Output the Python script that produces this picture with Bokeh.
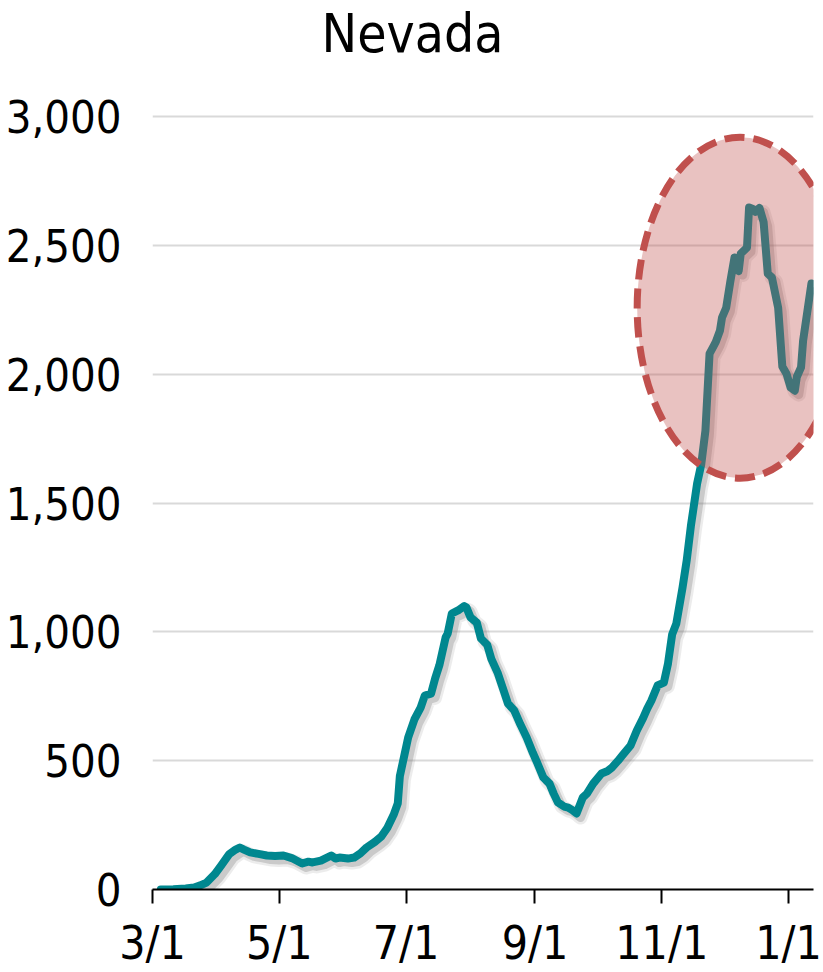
from datetime import datetime, timedelta
from bokeh.plotting import figure
from bokeh.models import FixedTicker, NumeralTickFormatter, Range1d
from bokeh.embed import file_html
from bokeh.resources import INLINE

# ---- data ----
dates = [
    "2020-03-05", "2020-03-11", "2020-03-17", "2020-03-21", "2020-03-24", "2020-03-27",
    "2020-03-31", "2020-04-03", "2020-04-07", "2020-04-10", "2020-04-12", "2020-04-14",
    "2020-04-17", "2020-04-21", "2020-04-25", "2020-04-29", "2020-05-03", "2020-05-07",
    "2020-05-12", "2020-05-15", "2020-05-17", "2020-05-21", "2020-05-26", "2020-05-28",
    "2020-05-30", "2020-06-03", "2020-06-06", "2020-06-09", "2020-06-12", "2020-06-16",
    "2020-06-19", "2020-06-22", "2020-06-25", "2020-06-27", "2020-06-28", "2020-06-30",
    "2020-07-02", "2020-07-05", "2020-07-08", "2020-07-10", "2020-07-13", "2020-07-15",
    "2020-07-17", "2020-07-20", "2020-07-21", "2020-07-23", "2020-07-26", "2020-07-29",
    "2020-07-30", "2020-08-01", "2020-08-04", "2020-08-06", "2020-08-09", "2020-08-11",
    "2020-08-14", "2020-08-17", "2020-08-19", "2020-08-22", "2020-08-25", "2020-08-28",
    "2020-08-31", "2020-09-02", "2020-09-05", "2020-09-08", "2020-09-10", "2020-09-12",
    "2020-09-15", "2020-09-17", "2020-09-19", "2020-09-21", "2020-09-24", "2020-09-26",
    "2020-09-29", "2020-10-03", "2020-10-06", "2020-10-08", "2020-10-11", "2020-10-13",
    "2020-10-17", "2020-10-20", "2020-10-23", "2020-10-25", "2020-10-27", "2020-10-30",
    "2020-11-02", "2020-11-04", "2020-11-06", "2020-11-08", "2020-11-11", "2020-11-13",
    "2020-11-15", "2020-11-18", "2020-11-20", "2020-11-22", "2020-11-24", "2020-11-26",
    "2020-11-27", "2020-11-29", "2020-11-30", "2020-12-02", "2020-12-04", "2020-12-06",
    "2020-12-08", "2020-12-09", "2020-12-12", "2020-12-13", "2020-12-15", "2020-12-16",
    "2020-12-18", "2020-12-20", "2020-12-22", "2020-12-24", "2020-12-27", "2020-12-29",
    "2020-12-31", "2021-01-02", "2021-01-04", "2021-01-05", "2021-01-07", "2021-01-08",
    "2021-01-12",
]
cases = [
    0, 1, 4, 8, 16, 27,
    60, 93, 138, 155, 163, 155,
    144, 138, 132, 130, 132, 122,
    101, 108, 105, 112, 132, 120,
    124, 120, 124, 140, 163, 185,
    205, 240, 290, 334, 440, 515,
    590, 660, 706, 753, 760, 820,
    870, 978, 993, 1071, 1083, 1100,
    1095, 1056, 1036, 974, 950, 895,
    842, 770, 722, 695, 640, 590,
    530, 493, 435, 411, 372, 338,
    322, 318, 308, 295, 357, 372,
    411, 450, 460, 473, 500, 520,
    559, 617, 665, 702, 733, 792,
    803, 877, 990, 1032, 1172, 1277,
    1410, 1575, 1650, 1780, 2080, 2110,
    2125, 2169, 2220, 2258, 2360, 2453,
    2400, 2468, 2491, 2647, 2640, 2630,
    2645, 2590, 2390, 2375, 2258, 2030,
    2002, 1948, 1936, 1990, 2026, 2130,
    2352,
]

title_text = "Nevada"
y_ticks = [0, 500, 1000, 1500, 2000, 2500, 3000]
x_tick_dates = ["2020-03-01", "2020-05-01", "2020-07-01", "2020-09-01", "2020-11-01", "2021-01-01"]
x_tick_labels = ["3/1", "5/1", "7/1", "9/1", "11/1", "1/1"]
x_start, x_end = "2020-03-01", "2021-01-13"

# highlighted region (ellipse): center date, center value, width in days, height in cases
hl_center_date = "2020-12-08 16:00"
hl_center_value = 2258
hl_width_days = 99
hl_height_value = 1323

# ---- layout (pixels) ----
W, H = 823, 972
FRAME_LEFT, FRAME_RIGHT = 152, 813
FRAME_TOP, FRAME_BOTTOM = 63, 889
PX_Y3000 = 116                      # where 3000 should land
k = (FRAME_BOTTOM - PX_Y3000) / 3000.0     # px per case
y_hi = 3000 + (PX_Y3000 - FRAME_TOP) / k

def d(s):
    fmt = "%Y-%m-%d %H:%M" if " " in s else "%Y-%m-%d"
    return datetime.strptime(s, fmt)

def ms(dt):
    return (dt - datetime(1970, 1, 1)).total_seconds() * 1000.0

xs = [d(s) for s in dates]
FONT = "'DejaVu Sans Condensed', sans-serif"

p = figure(width=W, height=H, x_axis_type="datetime",
           x_range=Range1d(d(x_start), d(x_end)), y_range=Range1d(0, y_hi),
           output_backend="svg", toolbar_location=None,
           min_border_left=FRAME_LEFT, min_border_right=W - FRAME_RIGHT,
           min_border_top=FRAME_TOP, min_border_bottom=H - FRAME_BOTTOM)

p.title.text = title_text
p.title.text_font = FONT
p.title.text_font_size = "53px"
p.title.text_font_style = "normal"
p.title.text_color = "black"
p.title.align = "left"
p.title.offset = 169
p.title.standoff = 0

p.outline_line_color = None
p.background_fill_color = "white"
p.border_fill_color = "white"

# drop shadow (offset a few pixels right/down)
px_per_day = (FRAME_RIGHT - FRAME_LEFT) / ((d(x_end) - d(x_start)).days)
dx = timedelta(days=4 / px_per_day)
dy = 4 / k
sx = [x + dx for x in xs]
sy = [v - dy for v in cases]
p.line(sx, sy, line_color="#7a7a7a", line_alpha=0.14, line_width=14, line_join="round")
p.line(sx, sy, line_color="#7a7a7a", line_alpha=0.30, line_width=9, line_join="round")

p.line(xs, cases, line_color="#00878F", line_width=8, line_join="round", line_cap="round")

p.ellipse(x=[d(hl_center_date)], y=[hl_center_value],
          width=hl_width_days * 86400000.0, height=hl_height_value,
          fill_color="#C0504D", fill_alpha=0.35,
          line_color="#C0504D", line_width=7, line_dash="20 9")

# axes
p.xaxis.ticker = FixedTicker(ticks=[ms(d(s)) for s in x_tick_dates])
p.xaxis.major_label_overrides = {ms(d(s)): lab for s, lab in zip(x_tick_dates, x_tick_labels)}
p.xaxis.axis_line_color = "black"
p.xaxis.axis_line_width = 2
p.xaxis.major_tick_line_color = "black"
p.xaxis.major_tick_line_width = 2
p.xaxis.major_tick_out = 14
p.xaxis.major_tick_in = 0
p.xaxis.minor_tick_line_color = None
p.xaxis.major_label_text_font = FONT
p.xaxis.major_label_text_font_size = "46px"
p.xaxis.major_label_text_color = "black"
p.xaxis.major_label_standoff = 12

p.yaxis.ticker = FixedTicker(ticks=y_ticks)
p.yaxis.formatter = NumeralTickFormatter(format="0,0")
p.yaxis.axis_line_color = None
p.yaxis.major_tick_line_color = None
p.yaxis.minor_tick_line_color = None
p.yaxis.major_tick_out = 0
p.yaxis.major_label_text_font = FONT
p.yaxis.major_label_text_font_size = "45px"
p.yaxis.major_label_text_color = "black"
p.yaxis.major_label_standoff = 31

p.xgrid.grid_line_color = None
p.ygrid.ticker = FixedTicker(ticks=y_ticks)
p.ygrid.grid_line_color = "#D9D9D9"
p.ygrid.grid_line_width = 2

open("out.html", "w").write(file_html(p, INLINE))
